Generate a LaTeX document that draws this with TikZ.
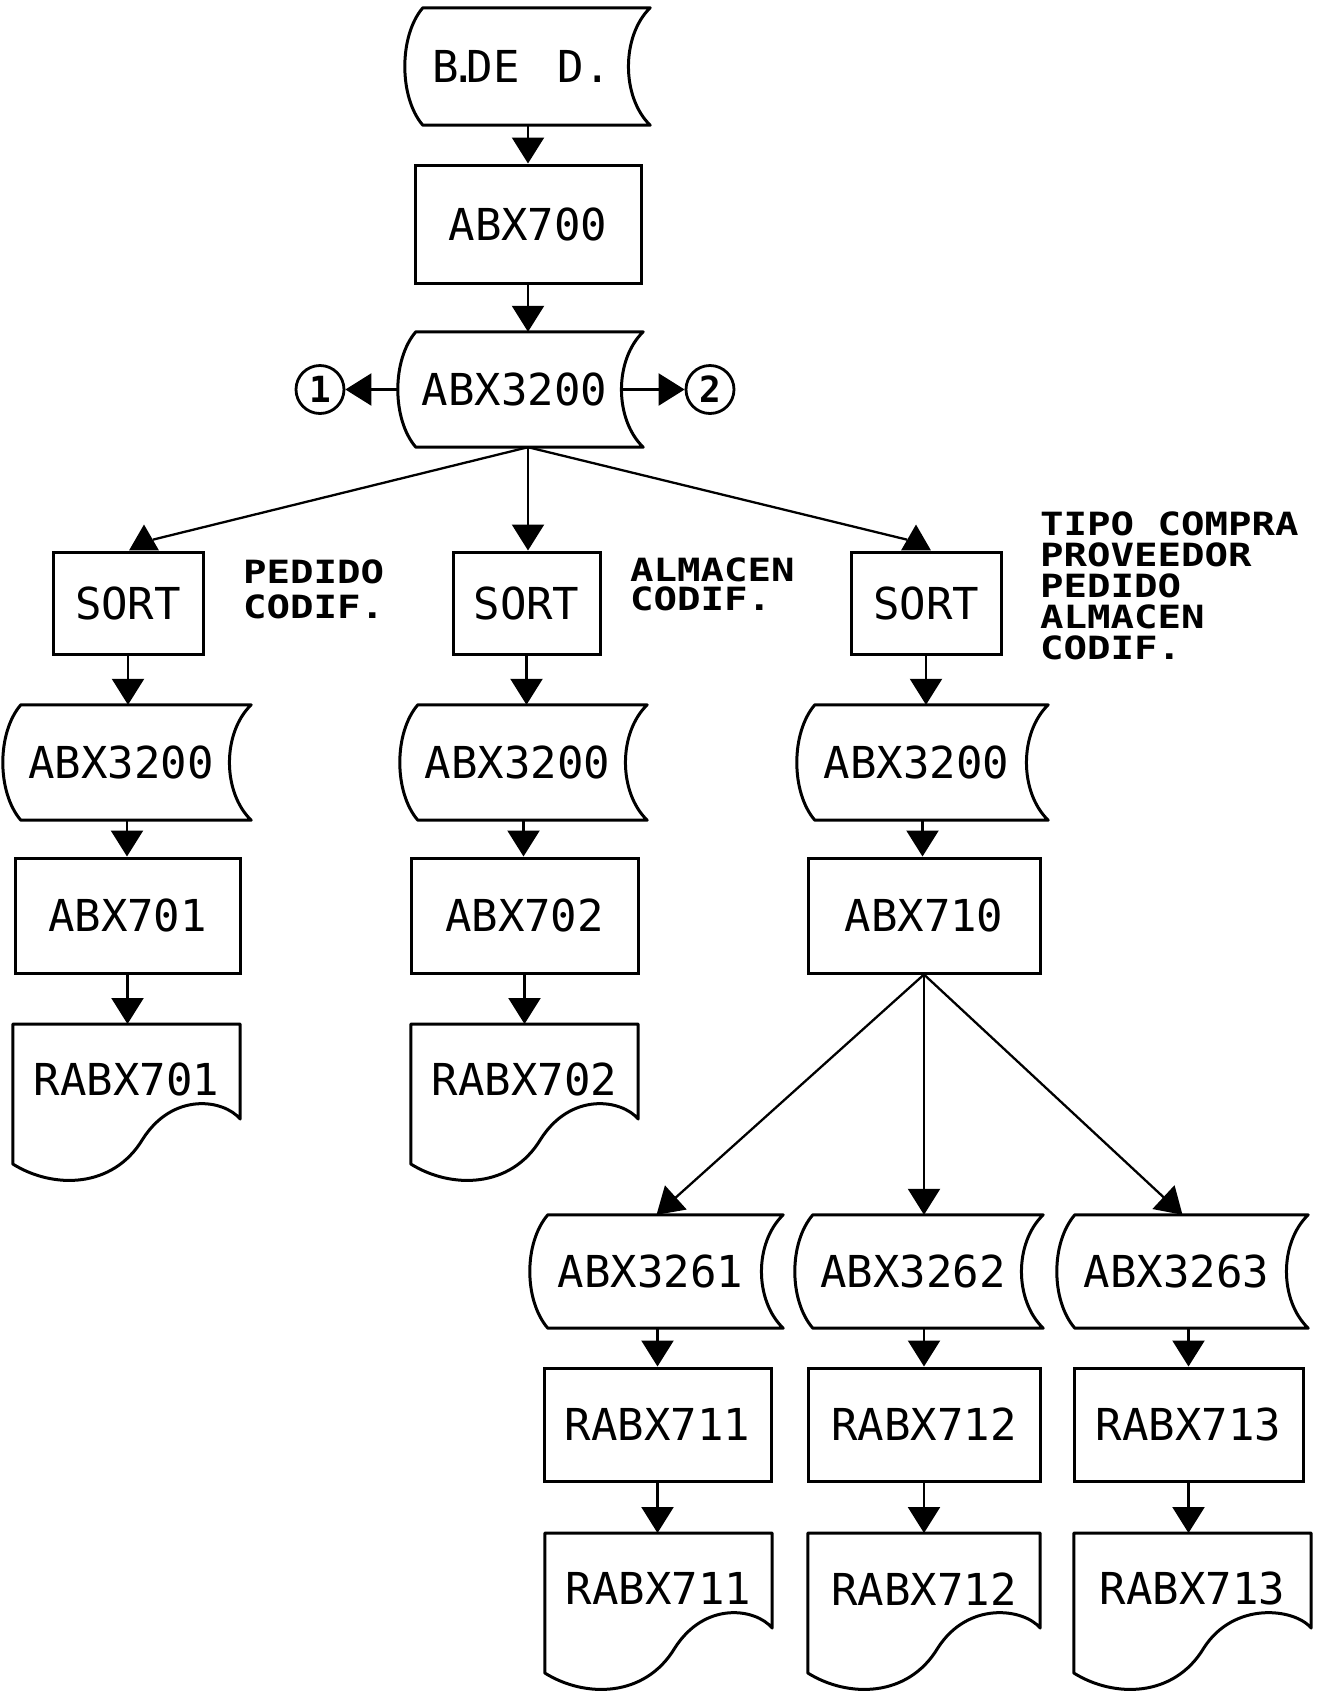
\documentclass[tikz,border=0pt]{standalone}
\usepackage{fontspec}
\newfontfamily\boxfont{DejaVu Sans Mono}
\newfontfamily\lblfont[FakeStretch=1.22]{DejaVu Sans Mono Bold}
\newfontfamily\numfont{DejaVu Sans Mono Bold}
\usetikzlibrary{arrows.meta,calc,shapes.geometric}
\newcommand\storagedraw[1]{%
  \draw[shp] ($(#1.north west)+(18,0)$) -- (#1.north east)
    .. controls ($(#1.north east)+(-29,28)$) and ($(#1.south east)+(-29,-28)$) .. (#1.south east)
    -- ($(#1.south west)+(18,0)$)
    .. controls ($(#1.south west)+(-6,-28)$) and ($(#1.north west)+(-6,28)$) .. ($(#1.north west)+(18,0)$) -- cycle;}
\newcommand\docdraw[1]{%
  \draw[shp] (#1.north west) -- ($(#1.north west)+(0,140)$)
    .. controls ($(#1.north west)+(40,165)$) and ($(#1.north west)+(100,165)$) .. ($(#1.north west)+(130,115)$)
    .. controls ($(#1.north west)+(160,68)$) and ($(#1.north east)+(-17,75)$) .. ($(#1.north east)+(0,95)$)
    -- (#1.north east) -- cycle;}
\newcommand\lft[1]{#1\kern12pt}
\begin{document}
\begin{tikzpicture}[x=1pt,y=-1pt,
  shp/.style={line width=3pt, line join=round},
  boxtxt/.style={font=\boxfont\fontsize{44}{50}\selectfont, inner sep=0pt},
  procbox/.style={boxtxt, draw, line width=3pt},
  storenode/.style={boxtxt},
  docnode/.style={boxtxt, anchor=north, minimum height=111},
  ln/.style={line width=2.3pt},
  arr/.style={ln, -{Triangle[width=32pt,length=26pt]}},
  tri/.style={regular polygon, regular polygon sides=3, minimum size=34.6, inner sep=0pt, fill=black},
  conn/.style={circle, draw, line width=2.8pt, minimum size=48, inner sep=0pt, font=\numfont\fontsize{36}{40}\selectfont},
  lbl/.style={align=left, anchor=north west, inner sep=0pt}
]
\useasboundingbox (0,0) rectangle (1318,1695);

% main column
\node[storenode, minimum width=245, minimum height=117] (bdd) at (527.5,66.5) {\lft{B\rlap{\kern-8pt.}\kern8pt DE\ \kern12pt D.}};
\node[procbox, minimum width=226, minimum height=118] (abx700) at (528,224) {ABX700};
\node[storenode, minimum width=245, minimum height=115] (s0) at (520.5,389.5) {\lft{ABX3200}};
\coordinate (s0in) at ($(s0.east)+(-22,0)$);
\node[conn] (c1) at (320,389.5) {1};
\node[conn] (c2) at (710,389.5) {2};

% sort row
\node[procbox, minimum width=150, minimum height=102] (sort1) at (128,603) {SORT};
\node[procbox, minimum width=147, minimum height=102] (sort2) at (526.5,603) {SORT};
\node[procbox, minimum width=150, minimum height=102] (sort3) at (926,603) {SORT};
\node[tri] (tri1) at ($(sort1.north)+(16,-8.66)$) {};
\node[tri] (tri3) at ($(sort3.north)+(-10,-8.66)$) {};

\node[lbl, font=\lblfont\fontsize{32}{35}\selectfont] (l1) at (243,560) {PEDIDO\\CODIF.};
\node[lbl, font=\lblfont\fontsize{32}{29}\selectfont] (l2) at (630,558) {ALMACEN\\CODIF.};
\node[lbl, font=\lblfont\fontsize{32}{31}\selectfont] (l3) at (1040,512) {TIPO COMPRA\\PROVEEDOR\\PEDIDO\\ALMACEN\\CODIF.};

% second storage row
\node[storenode, minimum width=248, minimum height=115] (s1) at (127,762.5) {\lft{ABX3200}};
\node[storenode, minimum width=247, minimum height=115] (s2) at (523.5,762.5) {\lft{ABX3200}};
\node[storenode, minimum width=251, minimum height=115] (s3) at (922.5,762.5) {\lft{ABX3200}};

% process row
\node[procbox, minimum width=225, minimum height=115] (abx701) at (127.5,915.5) {ABX701};
\node[procbox, minimum width=227, minimum height=115] (abx702) at (524.5,915.5) {ABX702};
\node[procbox, minimum width=232, minimum height=115] (abx710) at (924,915.5) {ABX710};

% documents
\node[docnode, minimum width=227] (rabx701) at (126.5,1024) {RABX701};
\node[docnode, minimum width=227] (rabx702) at (524.5,1024) {RABX702};

% third storage row
\node[storenode, minimum width=253, minimum height=113] (s3261) at (656.5,1271.5) {\lft{ABX3261}};
\node[storenode, minimum width=248, minimum height=113] (s3262) at (919,1271.5) {\lft{ABX3262}};
\node[storenode, minimum width=251, minimum height=113] (s3263) at (1182.5,1271.5) {\lft{ABX3263}};

\node[procbox, minimum width=227, minimum height=113] (r711) at (657.5,1424.5) {RABX711};
\node[procbox, minimum width=232, minimum height=113] (r712) at (924,1424.5) {RABX712};
\node[procbox, minimum width=229, minimum height=113] (r713) at (1188.5,1424.5) {RABX713};

\node[docnode, minimum width=227] (d711) at (658.5,1533) {RABX711};
\node[docnode, minimum width=232] (d712) at (924,1533) {RABX712};
\node[docnode, minimum width=237] (d713) at (1192.5,1533) {RABX713};

% shapes
\storagedraw{bdd}
\storagedraw{s0}
\storagedraw{s1}
\storagedraw{s2}
\storagedraw{s3}
\storagedraw{s3261}
\storagedraw{s3262}
\storagedraw{s3263}
\docdraw{rabx701}
\docdraw{rabx702}
\docdraw{d711}
\docdraw{d712}
\docdraw{d713}

% connectors
\draw[arr] (abx700.north |- bdd.south) -- (abx700.north);
\draw[arr] (abx700.south) -- (abx700.south |- s0.north);
\draw[arr] (s0.west) -- (c1);
\draw[arr] (s0in) -- (c2);
\coordinate (f0) at (abx700.south |- s0.south);
\draw[ln] (f0) -- (tri1);
\draw[ln] (f0) -- (tri3);
\draw[arr] (f0) -- (f0 |- sort2.north);

\draw[arr] (sort1.south) -- (sort1.south |- s1.north);
\draw[arr] (s1.south) -- (s1.south |- abx701.north);
\draw[arr] (abx701.south) -- (abx701.south |- rabx701.north);

\draw[arr] (sort2.south) -- (sort2.south |- s2.north);
\draw[arr] (s2.south) -- (s2.south |- abx702.north);
\draw[arr] (abx702.south) -- (abx702.south |- rabx702.north);

\draw[arr] (sort3.south) -- (sort3.south |- s3.north);
\draw[arr] (s3.south) -- (s3.south |- abx710.north);

\draw[arr] (abx710.south) -- (s3261.north);
\draw[arr] (abx710.south) -- (abx710.south |- s3262.north);
\draw[arr] (abx710.south) -- (s3263.north);

\draw[arr] (r711.north |- s3261.south) -- (r711.north);
\draw[arr] (r711.south) -- (r711.south |- d711.north);
\draw[arr] (r712.north |- s3262.south) -- (r712.north);
\draw[arr] (r712.south) -- (r712.south |- d712.north);
\draw[arr] (r713.north |- s3263.south) -- (r713.north);
\draw[arr] (r713.south) -- (r713.south |- d713.north);
\end{tikzpicture}
\end{document}
